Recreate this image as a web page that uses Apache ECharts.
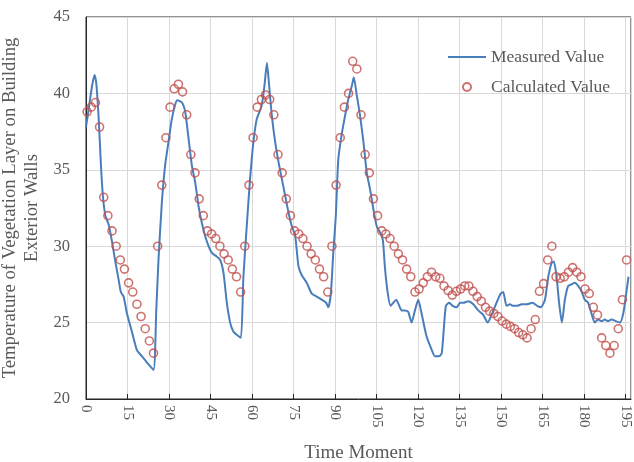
<!DOCTYPE html>
<html>
<head>
<meta charset="utf-8">
<script src="https://cdn.jsdelivr.net/npm/echarts@6/dist/echarts.min.js"></script>
<style>
  html, body { margin: 0; padding: 0; background: #fff; }
  #chart { width: 634px; height: 462px; }
</style>
</head>
<body>
<div id="chart"></div>
<script>
const measuredX = [0.0, 1.0, 2.2, 3.1, 3.7, 4.6, 5.4, 6.1, 7.0, 8.2, 9.4, 10.6, 11.8, 12.6, 13.6, 14.8, 16.6, 18.4, 20.2, 22.0, 24.4,
  25.4, 26.2, 27.4, 28.6, 29.8, 31.0, 32.3, 33.0, 34.7, 35.9, 37.1, 38.3, 39.5, 40.7, 41.9, 43.1, 44.3, 45.5, 46.7, 48.5,
  49.7, 50.9, 52.1, 53.3, 54.5, 56.0, 56.9, 58.1, 59.3, 60.5, 61.7, 63.5, 64.5, 65.4, 66.2, 67.2, 68.4, 69.6, 70.8, 72.0,
  73.2, 74.4, 75.6, 76.8, 78.0, 79.8, 81.6, 83.4, 85.2, 86.8, 87.6, 88.5, 89.4, 90.3, 91.2, 92.5, 93.6, 94.8, 96.1, 96.8,
  97.9, 99.1, 100.3, 101.5, 102.7, 103.9, 105.1, 106.3, 107.3, 108.1, 109.1, 110.1, 111.1, 112.1, 113.0, 114.1, 115.3, 116.5,
  117.7, 118.9, 120.1, 121.3, 123.1, 125.0, 126.1, 127.7, 128.6, 129.4, 130.1, 131.3, 132.5, 134.0, 135.2, 136.4, 138.2,
  140.0, 141.8, 143.6, 145.2, 146.6, 148.4, 149.9, 150.8, 152.0, 153.2, 154.4, 155.9, 157.5, 159.3, 161.4, 163.1, 164.4,
  165.9, 167.1, 168.3, 169.1, 170.1, 171.0, 172.0, 173.1, 174.3, 175.5, 176.7, 177.9, 179.1, 180.3, 181.5, 182.7, 183.9,
  185.1, 186.4, 187.5, 188.7, 189.9, 191.5, 193.0, 194.2, 195.1, 196.1];
const measuredY = [37.8, 39.0, 40.5, 41.2, 40.7, 38.3, 35.3, 33.3, 32.0, 31.4, 30.3, 29.0, 27.8, 27.0, 26.7, 25.6, 24.4, 23.2, 22.8, 22.4, 21.9,
  25.8, 29.1, 32.8, 35.3, 36.8, 38.3, 39.3, 39.55, 39.4, 38.75, 37.0, 35.25, 34.15, 32.6, 31.5, 30.65, 30.0, 29.56, 29.4, 29.1,
  28.25, 26.3, 25.0, 24.4, 24.2, 24.0, 28.0, 31.3, 34.4, 36.8, 38.3, 39.2, 40.5, 42.0, 40.5, 38.5, 36.8, 35.5, 34.4, 33.3,
  32.2, 31.3, 30.7, 28.7, 28.1, 27.6, 26.9, 26.7, 26.5, 26.3, 26.0, 26.9, 29.6, 32.0, 35.7, 37.4, 38.5, 39.6, 40.5, 41.05,
  39.85, 38.5, 36.8, 34.8, 33.7, 32.4, 31.3, 30.9, 30.4, 28.5, 26.9, 26.1, 26.3, 26.5, 26.2, 25.8, 25.8, 25.7,
  25.0, 25.8, 26.5, 25.6, 24.1, 23.2, 22.8, 22.8, 23.0, 24.75, 26.1, 26.3, 26.1, 26.0, 26.3, 26.3, 26.4,
  26.2, 25.8, 25.5, 25.0, 25.5, 26.3, 26.9, 27.0, 26.1, 26.2, 26.1, 26.1, 26.2, 26.2, 26.3, 26.1, 26.0,
  26.5, 28.0, 28.9, 29.0, 28.0, 26.3, 25.0, 26.5, 27.4, 27.5, 27.6, 27.4, 27.05, 26.5, 26.3, 25.6, 25.0,
  25.2, 25.1, 25.2, 25.1, 25.2, 25.1, 25.0, 25.6, 26.7, 28.0];

// Calculated value: one point every 1.5 time moments, starting at 0.4
const calcStart = 0.4;
const calcStep = 1.5;
const calculatedY = [38.8, 39.1, 39.4, 37.8, 33.2, 32.0, 31.0, 30.0, 29.1, 28.5, 27.6, 27.0, 26.2, 25.4, 24.6, 23.8, 23.0,
  30.0, 34.0, 37.1, 39.1, 40.3, 40.6, 40.1, 38.6, 36.0, 34.8,
  33.1, 32.0, 31.0, 30.8, 30.5, 30.0, 29.5, 29.1, 28.5, 28.0, 27.0,
  30.0, 34.0, 37.1, 39.1, 39.6, 39.9, 39.6, 38.6, 36.0, 34.8, 33.1, 32.0, 31.0, 30.8, 30.5, 30.0, 29.5, 29.1, 28.5, 28.0, 27.0,
  30.0, 34.0, 37.1, 39.1, 40.0, 42.1, 41.6, 38.6, 36.0, 34.8, 33.1, 32.0, 31.0, 30.8, 30.5, 30.0, 29.5, 29.1, 28.5, 28.0, 27.0,
  27.2, 27.6, 28.0, 28.3, 28.0,
  27.9, 27.4, 27.1, 26.8, 27.05, 27.2, 27.4, 27.4, 27.05, 26.7, 26.4, 26.0, 25.75, 25.6, 25.4, 25.1, 24.9, 24.75, 24.6, 24.35, 24.2, 24.0,
  24.6, 25.2, 27.05, 27.55, 29.1, 30.0, 28.0, 27.9, 28.0, 28.3, 28.6, 28.3, 28.0, 27.2, 26.9, 26.0, 25.5, 24.0, 23.5, 23.0, 23.5, 24.6, 26.5, 29.1];

const xTicks = { min: 0, max: 197, interval: 15 };
const yTicks = { min: 20, max: 45, interval: 5 };

const font = '"Liberation Serif", "Times New Roman", serif';
const textGray = '#595959';

const chart = echarts.init(document.getElementById('chart'), null, { renderer: 'canvas' });

const option = {
  backgroundColor: '#fff',
  animation: false,
  textStyle: { fontFamily: font },
  grid: {
    left: 86, right: 3, top: 17, bottom: 63,
    outerBoundsMode: 'none',
    containLabel: false,
    show: true, borderColor: '#262626', borderWidth: 1
  },
  legend: {
    orient: 'vertical',
    left: 443, top: 43,
    itemWidth: 38, itemHeight: 8, itemGap: 12,
    textStyle: { fontFamily: font, fontSize: 17.5, color: textGray },
    data: [
      { name: 'Measured Value', icon: 'path://M0,0 H38 V2 H0 Z', itemStyle: { color: '#4a7ebb' } },
      { name: 'Calculated Value' }
    ]
  },
  xAxis: {
    type: 'value',
    min: xTicks.min, max: xTicks.max, interval: xTicks.interval,
    name: 'Time Moment',
    nameLocation: 'middle', nameGap: 45,
    nameTextStyle: { fontFamily: font, fontSize: 19, color: textGray },
    axisLine: { show: true, lineStyle: { color: '#262626', width: 1 } },
    axisTick: { show: true, inside: true, length: 5, lineStyle: { color: '#262626' } },
    axisLabel: {
      rotate: -90, margin: 6, showMaxLabel: false,
      fontFamily: font, fontSize: 15, color: textGray
    },
    splitLine: { show: true, lineStyle: { color: '#d9d9d9', width: 1 } }
  },
  yAxis: {
    type: 'value',
    min: yTicks.min, max: yTicks.max, interval: yTicks.interval,
    name: 'Temperature of Vegetation Layer on Building\nExterior Walls',
    nameLocation: 'middle', nameGap: 34,
    nameTextStyle: { fontFamily: font, fontSize: 18.7, color: textGray, lineHeight: 22 },
    axisLine: { show: true, lineStyle: { color: '#262626', width: 1 } },
    axisTick: { show: false },
    axisLabel: { margin: 16, fontFamily: font, fontSize: 16.5, color: textGray },
    splitLine: { show: true, lineStyle: { color: '#d9d9d9', width: 1 } }
  },
  series: [
    {
      name: 'Measured Value',
      type: 'line',
      data: measuredX.map((x, i) => [x, measuredY[i]]),
      showSymbol: false,
      symbol: 'none',
      smooth: 0.2,
      lineStyle: { color: '#4a7ebb', width: 2 },
      itemStyle: { color: '#4a7ebb' },
      z: 2
    },
    {
      name: 'Calculated Value',
      type: 'scatter',
      data: calculatedY.map((y, i) => [calcStart + i * calcStep, y]),
      symbol: 'circle',
      symbolSize: 8,
      itemStyle: { color: 'rgba(255,255,255,0)', borderColor: '#c0504d', borderWidth: 1.6 },
      z: 3
    }
  ]
};

chart.setOption(option);
</script>
</body>
</html>
